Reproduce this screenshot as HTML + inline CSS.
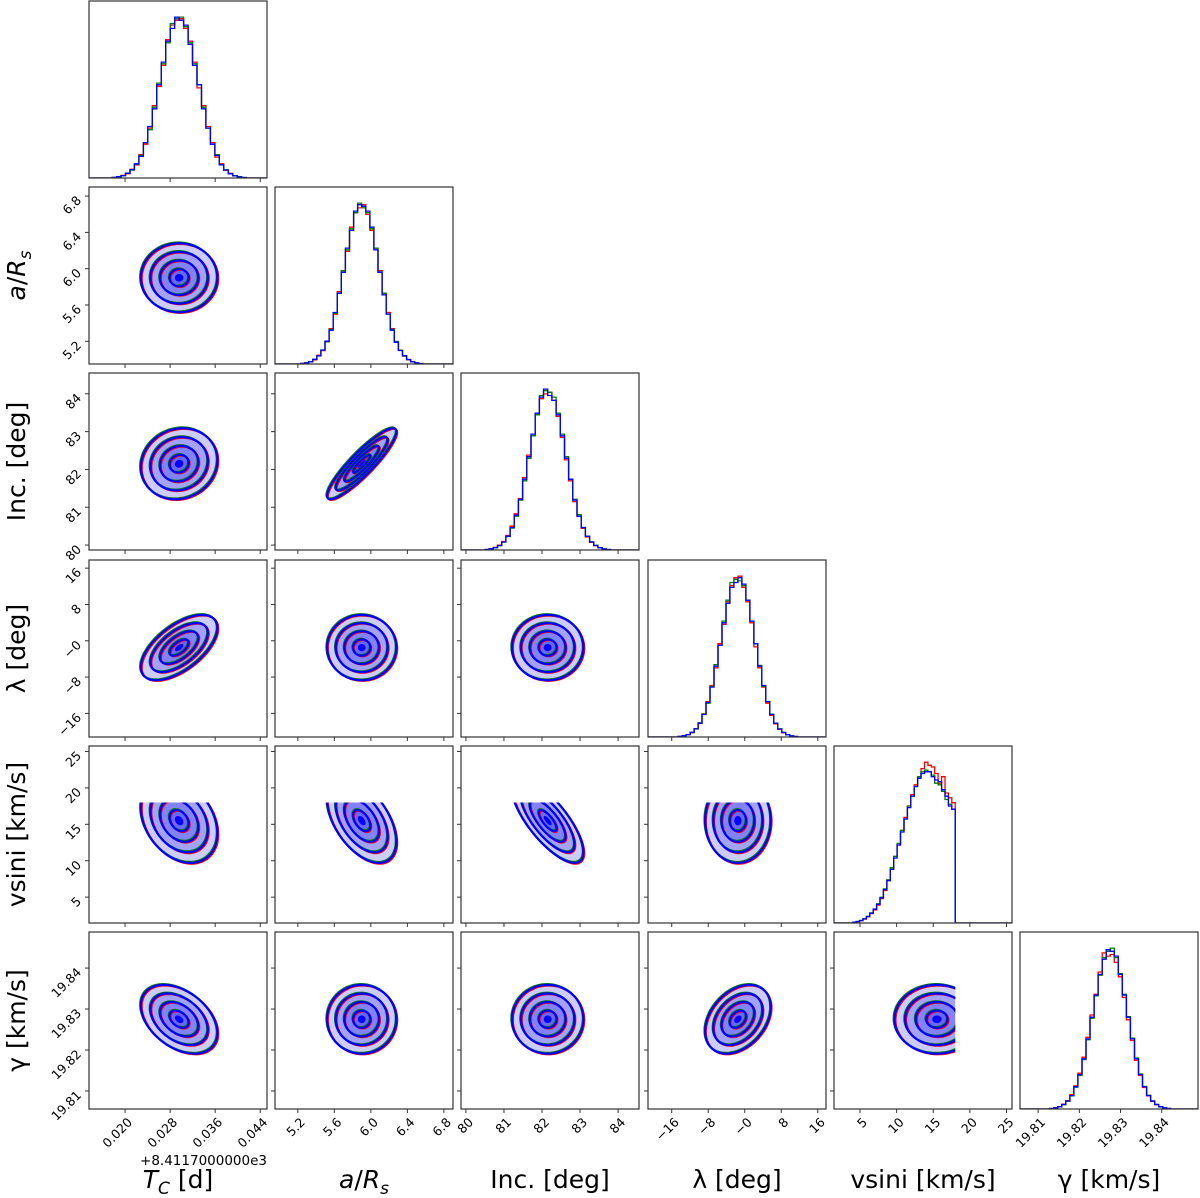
<!DOCTYPE html>
<html><head><meta charset="utf-8"><style>
html,body{margin:0;padding:0;background:#fff;}
svg{display:block;font-family:"DejaVu Sans","Liberation Sans",sans-serif;}
</style></head><body>
<svg id="chart" width="1200" height="1198" viewBox="0 0 1200 1198" xmlns="http://www.w3.org/2000/svg"></svg>
<script>
// ---- data ----
const paramNames = ["Tc", "aRs", "inc", "lambda", "vsini", "gamma"];
const paramRangeLo = [0.0136, 4.95, 79.87, -21.2, 1.45, 19.8056];
const paramRangeHi = [0.0452, 6.90, 84.55, 17.8, 25.75, 19.8488];
const tickTc = [0.020, 0.028, 0.036, 0.044];
const tickTcLabels = ["0.020", "0.028", "0.036", "0.044"];
const tickA = [5.2, 5.6, 6.0, 6.4, 6.8];
const tickALabels = ["5.2", "5.6", "6.0", "6.4", "6.8"];
const tickInc = [80, 81, 82, 83, 84];
const tickIncLabels = ["80", "81", "82", "83", "84"];
const tickLam = [-16, -8, 0, 8, 16];
const tickLamLabels = ["\u221216", "\u22128", "\u22120", "8", "16"];
const tickV = [5, 10, 15, 20, 25];
const tickVLabels = ["5", "10", "15", "20", "25"];
const tickG = [19.81, 19.82, 19.83, 19.84];
const tickGLabels = ["19.81", "19.82", "19.83", "19.84"];
const paramMeans = [0.0296, 5.90, 82.15, -1.5, 15.5, 19.8275];
const paramSigmas = [0.0034, 0.19, 0.47, 3.6, 2.9, 0.0042];
const vsiniMax = 18;
const corrRow1 = [0.0];
const corrRow2 = [0.1, 0.9];
const corrRow3 = [0.6, 0.0, 0.0];
const corrRow4 = [-0.3, -0.5, -0.75, 0.0];
const corrRow5 = [-0.4, 0.0, 0.0, 0.35, 0.0];
const contourLevels = [2.0, 1.5, 1.0, 0.5];
const histLo = [0.0177, 5.23, 80.5, -14.6, 4.0, 19.8128];
const histHi = [0.0415, 6.57, 83.8, 11.6, 18.0, 19.8422];
const histTcBlue = [0.4,0.8,1.5,3,5.2,8.8,13.5,22,32,43,58,72,85,93,100,98,95,83,70,58,43,31,21,14,8.2,5,2.6,1.3,0.6,0.3];
const histTcRed = [0.3,0.7,1.6,2.7,5.4,8.2,14.5,21,31,45,57,70,86,95,98,99,93,85,72,56,45,32,22,13,8.8,4.8,2.9,1.5,0.7,0.2];
const histTcGreen = [0.3,0.6,1.4,2.9,4.9,8.6,14,22,30,44,59,71,84,96,99,100,94,84,71,58,44,31,21,14.5,8.4,5.1,2.7,1.4,0.8,0.3];
const histABlue = [0.3,0.6,1.3,2.9,5.1,8.7,14.2,21,32,44,57,72,83,95,99,98,95,85,71,57,43,31,21,13.5,8.4,5.2,2.8,1.3,0.7,0.2];
const histARed = [0.4,0.8,1.5,2.6,5.4,8.3,14,22,31,45,58,70,85,94,97,99,93,83,72,58,44,32,22,14,8.6,4.9,2.6,1.5,0.6,0.3];
const histAGreen = [0.3,0.7,1.4,2.8,5,8.6,13.8,21.5,31.5,44,58,71,84,94,100,97,94,84,72,57,44,31,21.5,14,8.5,5,2.8,1.4,0.7,0.3];
const histIncBlue = [0.3,0.7,1.4,2.8,5,8.6,14,21.6,31.5,44,58,72,85,95,100,96,93,84,71,57,44,31,21,14,8.5,5,2.8,1.4,0.7,0.3];
const histIncRed = [0.3,0.8,1.6,3,5.3,9,14.8,22.5,32,45,59,71,84,94,97,98,93,83,70,56,43,30,21,13.5,8.2,4.8,2.7,1.3,0.6,0.2];
const histIncGreen = [0.3,0.6,1.3,2.7,4.9,8.3,13.6,21,31,43,57,71,84,96,99,98,95,85,72,58,44,31.5,22,14,8.6,5.1,2.9,1.4,0.7,0.3];
const histLamBlue = [0.4,0.8,1.5,2.9,5.1,8.6,14,21.5,31,44,57,71,83,93,96,99,95,85,72,58,44,32,22,14,8.6,5,2.8,1.4,0.7,0.3];
const histLamRed = [0.3,0.7,1.4,2.7,5.2,8.4,14.4,22,32,43,58,70,84,94,99,100,93,84,71,56,43,31,21,13.5,8.2,4.8,2.7,1.3,0.6,0.3];
const histLamGreen = [0.3,0.7,1.5,2.8,5,8.8,14.2,21,31.5,45,57,72,85,96,98,97,94,85,72,58,44.5,31.5,22,14.2,8.6,5.1,2.9,1.4,0.7,0.3];
const histVBlue = [0.4,0.9,1.5,2.5,4,6,8.5,11.5,15.5,20.5,26,33,40,48,56,64,71,78,84,89,92,93,93,90,88,87,82,78,72,70];
const histVRed = [0.3,0.8,1.4,2.4,3.8,5.8,8,11,15,20,26.5,33,41,48,57,65,72,79,85,90,95,99,97,96,92,86,90,80,77,74];
const histVGreen = [0.4,0.9,1.6,2.6,4.1,6.2,8.6,11.8,15.8,21,26.5,34,41,49,57,64,72,78,84,90,93,94,93,91,86,85,81,76,73,70];
const histGBlue = [0.3,0.7,1.4,2.8,5,8.5,14,21.6,31.5,44,57.6,71.5,84.5,94,100,99,96,84.5,71.5,57.6,44,31.5,21.6,14,8.5,5,2.8,1.4,0.7,0.3];
const histGRed = [0.3,0.8,1.5,3,5.3,9,14.5,22.5,32.5,45,59,72,86,98,96,97,92,83,70,56,43,30.5,21,13.5,8.2,4.8,2.7,1.3,0.6,0.3];
const histGGreen = [0.3,0.6,1.3,2.7,4.9,8.3,13.7,21,31,43.5,57,71,84,95,99,101,95,85,72,58,44.5,32,22,14.2,8.6,5.1,2.9,1.4,0.7,0.3];
const axisLabels = ["T_C [d]", "a/R_s", "Inc. [deg]", "\u03bb [deg]", "vsini [km/s]", "\u03b3 [km/s]"];

// ---- layout ----
const colX = [89, 275, 461, 648, 834, 1020];
const rowY = [1, 187, 373, 560, 746, 932];
const PW = 178, PH = 177;
const svg = document.getElementById('chart');
const NS = 'http://www.w3.org/2000/svg';
function mk(tag, attrs, parent) {
  const e = document.createElementNS(NS, tag);
  for (const k in attrs) e.setAttribute(k, attrs[k]);
  (parent || svg).appendChild(e);
  return e;
}
function xScale(p, v) { return colX[p] + (v - paramRangeLo[p]) / (paramRangeHi[p] - paramRangeLo[p]) * PW; }
function yScale(p, v) { return rowY[p] + PH - (v - paramRangeLo[p]) / (paramRangeHi[p] - paramRangeLo[p]) * PH; }
const ticksAll = [tickTc, tickA, tickInc, tickLam, tickV, tickG];
const tickLabelsAll = [tickTcLabels, tickALabels, tickIncLabels, tickLamLabels, tickVLabels, tickGLabels];
const corrAll = [[], corrRow1, corrRow2, corrRow3, corrRow4, corrRow5];
const histAll = [
  [histTcRed, histTcGreen, histTcBlue],
  [histARed, histAGreen, histABlue],
  [histIncRed, histIncGreen, histIncBlue],
  [histLamRed, histLamGreen, histLamBlue],
  [histVRed, histVGreen, histVBlue],
  [histGRed, histGGreen, histGBlue]];
const chainColors = ['#ff0000', '#008000', '#0000ff'];
const chainNames = ['red', 'green', 'blue'];
const defs = mk('defs', {});

for (let r = 0; r < 6; r++) {
  for (let c = 0; c <= r; c++) {
    const g = mk('g', {});
    
    
    const cid = 'clip' + r + '_' + c;
    const cp = mk('clipPath', { id: cid }, defs);
    let cy0 = rowY[r], cy1 = rowY[r] + PH, cx1 = colX[c] + PW;
    if (r === 4 && c !== 4) cy0 = Math.max(cy0, yScale(4, vsiniMax));
    if (c === 4 && r !== 4) cx1 = Math.min(cx1, xScale(4, vsiniMax));
    mk('rect', { x: colX[c], y: cy0, width: cx1 - colX[c], height: cy1 - cy0 }, cp);
    const inner = mk('g', { 'clip-path': 'url(#' + cid + ')' }, g);
    if (r === c) {
      const hs = histAll[r];
      let mx = 0;
      hs.forEach(h => h.forEach(v => { if (v > mx) mx = v; }));
      const ytop = mx * 1.1;
      const n = hs[0].length, bw = (histHi[r] - histLo[r]) / n;
      const base = rowY[r] + PH;
      hs.forEach((h, k) => {
        let d = 'M' + colX[r] + ',' + base + 'L' + xScale(r, histLo[r]) + ',' + base;
        for (let i = 0; i < n; i++) {
          const yy = base - h[i] / ytop * PH;
          d += 'L' + xScale(r, histLo[r] + i * bw).toFixed(1) + ',' + yy.toFixed(1) + 'L' + xScale(r, histLo[r] + (i + 1) * bw).toFixed(1) + ',' + yy.toFixed(1);
        }
        d += 'L' + xScale(r, histHi[r]).toFixed(1) + ',' + base + 'L' + (colX[r] + PW) + ',' + base;
        const p = mk('path', { d: d, fill: 'none', stroke: chainColors[k], 'stroke-width': 1.3 }, inner);
        
        
      });
    } else {
      const rho = corrAll[r][c];
      const sx = paramSigmas[c], sy = paramSigmas[r];
      const l11 = sx, l21 = rho * sy, l22 = sy * Math.sqrt(1 - rho * rho);
      function ell(k, dx, dy) {
        let d = '';
        for (let i = 0; i <= 72; i++) {
          const t = i / 72 * 2 * Math.PI, u = Math.cos(t), w = Math.sin(t);
          const vx = paramMeans[c] + dx * sx + k * l11 * u;
          const vy = paramMeans[r] + dy * sy + k * (l21 * u + l22 * w);
          d += (i ? 'L' : 'M') + xScale(c, vx).toFixed(1) + ',' + yScale(r, vy).toFixed(1);
        }
        return d + 'Z';
      }
      contourLevels.forEach((k, li) => {
        const f = mk('path', { d: ell(k, 0, 0), fill: '#0000ff', 'fill-opacity': 0.2 }, inner);
        
        
      });
      const offs = [[0.05, -0.04], [-0.04, 0.05], [0, 0]];
      offs.forEach((o, ci) => {
        contourLevels.forEach((k, li) => {
          const ln = mk('path', { d: ell(k, o[0], o[1]), fill: 'none', stroke: chainColors[ci], 'stroke-width': ci === 2 ? 2.2 : 2 }, inner);
          
          
        });
      });
      const ctr = mk('path', { d: ell(0.22, 0, 0), fill: '#0000ff' }, inner);
      
      
    }
    const fr = mk('rect', { x: colX[c], y: rowY[r], width: PW, height: PH, fill: 'none', stroke: '#333', 'stroke-width': 1.2 }, g);
    
    
    ticksAll[c].forEach((t, i) => {
      const x = xScale(c, t);
      mk('line', { x1: x, x2: x, y1: rowY[r] + PH, y2: rowY[r] + PH + 4, stroke: '#333', 'stroke-width': 1 }, g);
      if (r === 5) {
        const ax = x + 8, ay = rowY[r] + PH + 14;
        const tx = mk('text', { x: ax, y: ay, 'font-size': 12.5, 'text-anchor': 'end', fill: '#000', transform: 'rotate(-45 ' + ax + ' ' + ay + ')' }, g);
        tx.textContent = tickLabelsAll[c][i];
        
        
      }
    });
    if (r !== c) {
      ticksAll[r].forEach((t, i) => {
        const y = yScale(r, t);
        mk('line', { x1: colX[c] - 4, x2: colX[c], y1: y, y2: y, stroke: '#333', 'stroke-width': 1 }, g);
        if (c === 0) {
          const ax = colX[c] - 7, ay = y + 5;
          const tx = mk('text', { x: ax, y: ay, 'font-size': 12.5, 'text-anchor': 'end', fill: '#000', transform: 'rotate(-45 ' + ax + ' ' + ay + ')' }, g);
          tx.textContent = tickLabelsAll[r][i];
          
          
        }
      });
    }
  }
}
const xLabelCenters = colX.map(x => x + PW / 2);
const xl0 = mk('text', { x: xLabelCenters[0], y: 1188, 'font-size': 25, 'text-anchor': 'middle' });
xl0.innerHTML = '<tspan font-style="italic">T</tspan><tspan font-style="italic" font-size="17" dy="6">C</tspan><tspan dy="-6"> [d]</tspan>';


const xl1 = mk('text', { x: xLabelCenters[1], y: 1188, 'font-size': 25, 'text-anchor': 'middle' });
xl1.innerHTML = '<tspan font-style="italic">a</tspan>/<tspan font-style="italic">R</tspan><tspan font-style="italic" font-size="17" dy="6">s</tspan>';


[2, 3, 4, 5].forEach(i => {
  const t = mk('text', { x: xLabelCenters[i], y: 1188, 'font-size': 25, 'text-anchor': 'middle' });
  t.textContent = axisLabels[i];
  
  
});
const off = mk('text', { x: 267, y: 1165, 'font-size': 13.5, 'text-anchor': 'end' });
off.textContent = '+8.4117000000e3';


const yl1 = mk('text', { x: 0, y: 0, 'font-size': 25, 'text-anchor': 'middle', transform: 'translate(25 ' + (rowY[1] + PH / 2) + ') rotate(-90)' });
yl1.innerHTML = '<tspan font-style="italic">a</tspan>/<tspan font-style="italic">R</tspan><tspan font-style="italic" font-size="17" dy="6">s</tspan>';


[2, 3, 4, 5].forEach(i => {
  const t = mk('text', { x: 0, y: 0, 'font-size': 25, 'text-anchor': 'middle', transform: 'translate(25 ' + (rowY[i] + PH / 2) + ') rotate(-90)' });
  t.textContent = axisLabels[i];
  
  
});
</script>
</body></html>
